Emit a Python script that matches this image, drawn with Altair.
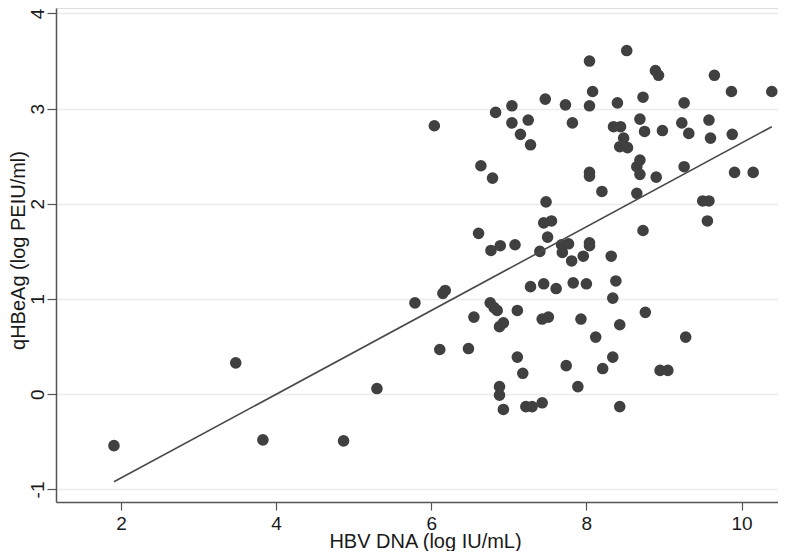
import altair as alt
import pandas as pd

# HBV DNA (log IU/mL)
hbv_dna = [
    1.91, 3.48, 3.83, 4.87, 5.30, 5.79,
    6.04, 6.83, 7.04, 7.04, 7.25, 7.15, 7.28, 7.47, 6.64, 6.79, 7.48, 7.45, 7.55, 6.61,
    8.04, 8.52, 8.89, 8.93, 7.73, 8.08, 8.04, 8.40, 8.73, 7.82, 8.35, 8.44, 8.69, 8.75,
    8.98, 8.48, 8.43, 8.53, 8.69, 8.65, 8.69, 8.90, 8.04, 8.04, 8.20, 8.65, 8.73,
    9.65, 9.87, 10.39, 9.26, 9.23, 9.58, 9.32, 9.60, 9.88, 9.26, 9.91, 10.15, 9.50, 9.58, 9.56,
    6.77, 6.89, 7.08, 7.40, 7.50, 6.15, 6.18, 7.28, 7.45, 6.76, 6.81, 6.85, 6.55, 7.11,
    6.93, 6.88, 7.43, 7.51, 6.11, 6.48, 7.11, 7.18, 6.88, 6.88, 6.93, 7.22, 7.30, 7.43,
    7.68, 7.77, 8.04, 8.04, 7.69, 7.81, 7.96, 8.32, 7.61, 7.83, 8.00, 8.38, 8.34, 7.93,
    8.76, 8.43, 8.12, 7.74, 8.21, 8.34, 8.95, 9.05, 7.89, 8.43, 9.28,
]
# qHBeAg (log PEIU/ml)
qhbeag = [
    -0.54, 0.33, -0.48, -0.49, 0.06, 0.96,
    2.82, 2.96, 3.03, 2.85, 2.88, 2.73, 2.62, 3.10, 2.40, 2.27, 2.02, 1.80, 1.82, 1.69,
    3.50, 3.61, 3.40, 3.35, 3.04, 3.18, 3.03, 3.06, 3.12, 2.85, 2.81, 2.81, 2.89, 2.76,
    2.77, 2.69, 2.60, 2.59, 2.46, 2.39, 2.31, 2.28, 2.33, 2.29, 2.13, 2.11, 1.72,
    3.35, 3.18, 3.18, 3.06, 2.85, 2.88, 2.74, 2.69, 2.73, 2.39, 2.33, 2.33, 2.03, 2.03, 1.82,
    1.51, 1.56, 1.57, 1.50, 1.65, 1.06, 1.09, 1.13, 1.16, 0.96, 0.91, 0.88, 0.81, 0.88,
    0.75, 0.71, 0.79, 0.81, 0.47, 0.48, 0.39, 0.22, 0.08, -0.01, -0.16, -0.13, -0.13, -0.09,
    1.57, 1.58, 1.59, 1.56, 1.49, 1.40, 1.45, 1.45, 1.11, 1.17, 1.16, 1.19, 1.01, 0.79,
    0.86, 0.73, 0.60, 0.30, 0.27, 0.39, 0.25, 0.25, 0.08, -0.13, 0.60,
]

# fitted line end points
fit_x = [1.91, 10.39]
fit_y = [-0.92, 2.81]

x_ticks = [2, 4, 6, 8, 10]
y_ticks = [-1, 0, 1, 2, 3, 4]

x_title = "HBV DNA (log IU/mL)"
y_title = "qHBeAg (log PEIU/ml)"

pts = pd.DataFrame({"x": hbv_dna, "y": qhbeag})
fit = pd.DataFrame({"x": fit_x, "y": fit_y})

FONT = "Liberation Sans"

x_scale = alt.Scale(domain=[1.163, 10.47], nice=False, zero=False)
y_scale = alt.Scale(domain=[-1.132, 4.057], nice=False, zero=False)

x_axis = alt.Axis(
    values=x_ticks, labelExpr="'' + datum.value", title=x_title, grid=False,
    tickSize=8, labelPadding=4, labelFontSize=19, labelFont=FONT, labelColor="#1a1a1a",
    titleFontSize=20, titleFont=FONT, titleColor="#1a1a1a", titleFontWeight="normal",
    titleBaseline="alphabetic", titleY=45, titleX=369, titleAlign="center",
    domainColor="#555555", domainWidth=1.5, tickColor="#555555", tickWidth=1.2,
)
y_axis = alt.Axis(
    values=y_ticks, labelExpr="'' + datum.value", title=y_title, grid=True,
    gridColor="#ececec", gridWidth=1.5,
    tickSize=9, labelPadding=0, labelAngle=270, labelAlign="center", labelBaseline="bottom",
    labelFontSize=19, labelFont=FONT, labelColor="#1a1a1a",
    titleFontSize=20, titleFont=FONT, titleColor="#1a1a1a", titleFontWeight="normal",
    titleAngle=270, titleBaseline="alphabetic", titleAlign="center", titleX=-32, titleY=242,
    domainColor="#555555", domainWidth=1.5, tickColor="#555555", tickWidth=1.2,
)

points = alt.Chart(pts).mark_circle(size=135, color="#404040", opacity=1).encode(
    x=alt.X("x:Q", scale=x_scale, axis=x_axis),
    y=alt.Y("y:Q", scale=y_scale, axis=y_axis),
)
line = alt.Chart(fit).mark_line(color="#4a4a4a", strokeWidth=1.6).encode(
    x=alt.X("x:Q", scale=x_scale),
    y=alt.Y("y:Q", scale=y_scale),
)

chart = alt.layer(points, line).properties(
    width=722, height=494,
    autosize=alt.AutoSizeParams(type="none"),
    padding={"left": 48, "top": 0, "right": 0, "bottom": 49},
).configure_view(stroke=None).configure(background="white")

chart.save("out.html", embed_options={"renderer": "svg", "actions": False})
